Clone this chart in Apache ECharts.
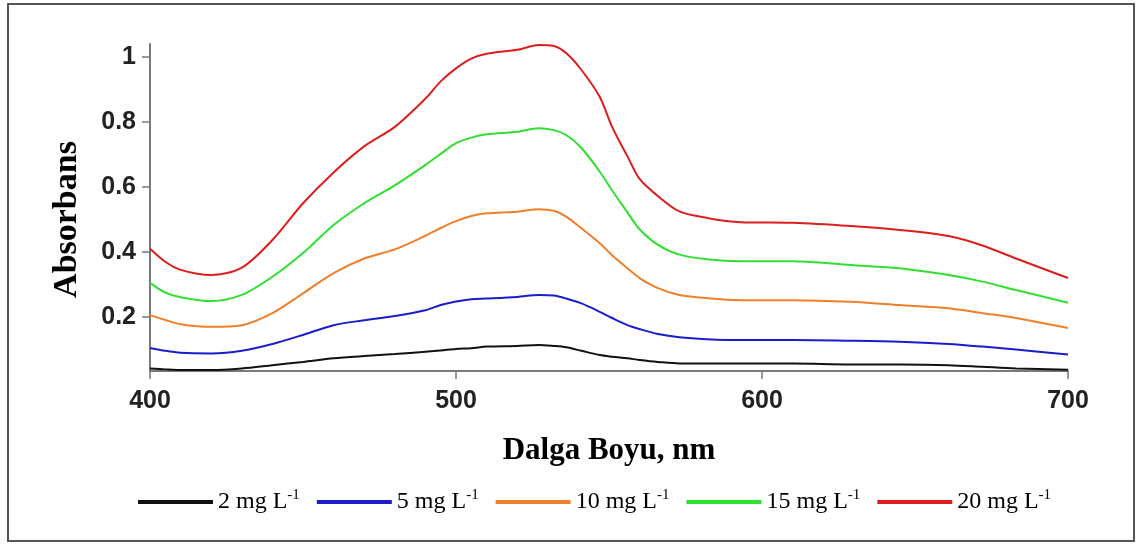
<!DOCTYPE html>
<html>
<head>
<meta charset="utf-8">
<script src="https://cdn.jsdelivr.net/npm/echarts@6/dist/echarts.min.js"></script>
<style>
  html, body { margin: 0; padding: 0; background: #fff; }
  #chart { width: 1141px; height: 547px; }
</style>
</head>
<body>
<div id="chart"></div>
<script>
// wavelengths (nm) shared by every curve
const wavelengths = [400, 405, 410, 420, 430, 440, 450, 460, 470, 480, 490, 495, 500, 505, 510, 520, 527, 532, 536, 541, 547, 551, 556, 560, 566, 573, 582, 593, 610, 629, 645, 661, 672, 683, 700]

const conc = ['2', '5', '10', '15', '20']
const abs2 = [0.042, 0.039, 0.037, 0.037, 0.042, 0.052, 0.062, 0.073, 0.080, 0.086, 0.093, 0.097, 0.102, 0.104, 0.109, 0.111, 0.114, 0.111, 0.107, 0.096, 0.083, 0.078, 0.073, 0.068, 0.062, 0.057, 0.057, 0.057, 0.057, 0.054, 0.054, 0.052, 0.047, 0.042, 0.038]
const abs5 = [0.105, 0.096, 0.090, 0.088, 0.096, 0.117, 0.145, 0.175, 0.190, 0.203, 0.221, 0.237, 0.248, 0.255, 0.257, 0.262, 0.268, 0.266, 0.257, 0.242, 0.216, 0.197, 0.175, 0.163, 0.148, 0.138, 0.132, 0.129, 0.129, 0.127, 0.124, 0.117, 0.109, 0.100, 0.085]
const abs10 = [0.206, 0.191, 0.178, 0.170, 0.175, 0.212, 0.273, 0.335, 0.380, 0.408, 0.450, 0.474, 0.495, 0.511, 0.519, 0.524, 0.532, 0.527, 0.509, 0.473, 0.427, 0.390, 0.350, 0.320, 0.289, 0.268, 0.258, 0.252, 0.252, 0.247, 0.237, 0.227, 0.212, 0.197, 0.166]
const abs15 = [0.305, 0.275, 0.261, 0.249, 0.268, 0.324, 0.397, 0.483, 0.550, 0.605, 0.668, 0.702, 0.735, 0.752, 0.762, 0.770, 0.781, 0.775, 0.760, 0.720, 0.647, 0.590, 0.522, 0.470, 0.422, 0.392, 0.378, 0.372, 0.372, 0.360, 0.350, 0.329, 0.309, 0.283, 0.244]
const abs20 = [0.410, 0.370, 0.345, 0.329, 0.352, 0.437, 0.550, 0.645, 0.725, 0.785, 0.872, 0.925, 0.965, 0.995, 1.010, 1.022, 1.037, 1.034, 1.012, 0.960, 0.877, 0.785, 0.695, 0.625, 0.572, 0.525, 0.505, 0.492, 0.490, 0.480, 0.468, 0.449, 0.420, 0.380, 0.320]

const yTicks = [0.2, 0.4, 0.6, 0.8, 1]
const colors = ['#111111', '#1c1cc8', '#ef7f2a', '#30e030', '#dc1e1e']

const allAbs = [abs2, abs5, abs10, abs15, abs20]
const seriesNames = conc.map((c) => c + ' mg L-1')

const series = allAbs.map((vals, i) => ({
  name: seriesNames[i],
  type: 'line',
  smooth: 0.3,
  showSymbol: false,
  symbol: 'none',
  data: wavelengths.map((w, j) => [w, vals[j]]),
  lineStyle: { color: colors[i], width: 2 },
  itemStyle: { color: colors[i] },
}))

const axisGray = '#7a7a7a'
const serif = '"Liberation Serif", "Times New Roman", serif'
const sans = 'Arial, "Liberation Sans", sans-serif'

const option = {
  animation: false,
  backgroundColor: '#fff',
  grid: { left: 150, right: 73, top: 44, bottom: 176, containLabel: false, outerBoundsMode: 'none' },
  legend: {
    left: 133,
    top: 483,
    icon: 'rect',
    itemWidth: 75,
    itemHeight: 4,
    itemGap: 17,
    data: seriesNames,
    formatter: (name) => '{t|' + name.replace(/-1$/, '') + '}{s|-1}',
    textStyle: {
      rich: {
        t: { fontFamily: serif, fontSize: 24, color: '#000', lineHeight: 28 },
        s: { fontFamily: serif, fontSize: 15, color: '#000', lineHeight: 15, verticalAlign: 'top' },
      },
    },
  },
  xAxis: {
    type: 'value',
    min: 400,
    max: 700,
    interval: 100,
    name: 'Dalga Boyu, nm',
    nameLocation: 'middle',
    nameGap: 64,
    nameTextStyle: { fontFamily: serif, fontWeight: 'bold', fontSize: 31, color: '#000' },
    splitLine: { show: false },
    axisLine: { show: true, lineStyle: { color: axisGray, width: 2 } },
    axisTick: { show: true, length: 8, lineStyle: { color: axisGray, width: 1.5 } },
    axisLabel: { margin: 18, fontFamily: sans, fontWeight: 'bold', fontSize: 25, color: '#222' },
  },
  yAxis: {
    type: 'value',
    min: 0.034,
    max: 1.04,
    name: 'Absorbans',
    nameLocation: 'middle',
    nameRotate: 90,
    nameGap: 66,
    nameTextStyle: { fontFamily: serif, fontWeight: 'bold', fontSize: 34, color: '#000', padding: [0, 24, 0, 0] },
    splitLine: { show: false },
    axisLine: { show: true, lineStyle: { color: axisGray, width: 2 } },
    axisTick: { show: true, length: 8, customValues: yTicks, lineStyle: { color: axisGray, width: 1.5 } },
    axisLabel: {
      margin: 14,
      customValues: yTicks,
      fontFamily: sans,
      fontWeight: 'bold',
      fontSize: 25,
      color: '#222',
    },
  },
  graphic: [
    {
      type: 'rect',
      silent: true,
      shape: { x: 8, y: 4, width: 1126, height: 537 },
      style: { fill: null, stroke: '#555', lineWidth: 2 },
    },
  ],
  series: series,
}

const c = echarts.init(document.getElementById('chart'))
c.setOption(option)
</script>
</body>
</html>
